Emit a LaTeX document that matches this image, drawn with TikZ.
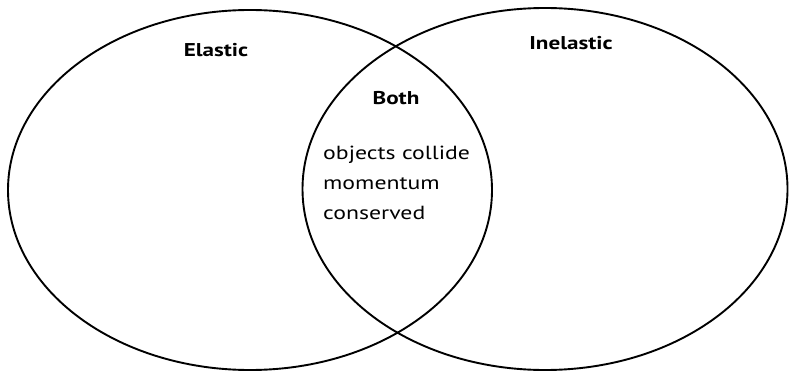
\documentclass[tikz,border=0pt]{standalone}
\usepackage{fontspec}
\setmainfont{PT Sans}[FakeStretch=1.25]
\usetikzlibrary{shapes.geometric}
\tikzset{
  venn/.style={draw=black, line width=1.9pt, ellipse},
  heading/.style={font=\fontsize{18.5}{22}\selectfont\bfseries, inner sep=0pt},
  body/.style={font=\fontsize{19}{30}\selectfont, align=left, inner sep=0pt}
}
\begin{document}
\begin{tikzpicture}[x=1pt,y=-1pt]
\useasboundingbox (0,0) rectangle (791,374);
\node[venn, minimum width=484pt, minimum height=360pt] (left) at (250,190) {};
\node[venn, minimum width=485pt, minimum height=362pt] (right) at (545,189) {};
\node[heading] (elastic) at (216,50) {Elastic};
\node[heading] (inelastic) at (571,43) {Inelastic};
\node[heading] (both) at (396,98) {Both};
\node[body, anchor=west] (text) at (323,183) {objects collide\\momentum\\conserved};
\end{tikzpicture}
\end{document}
